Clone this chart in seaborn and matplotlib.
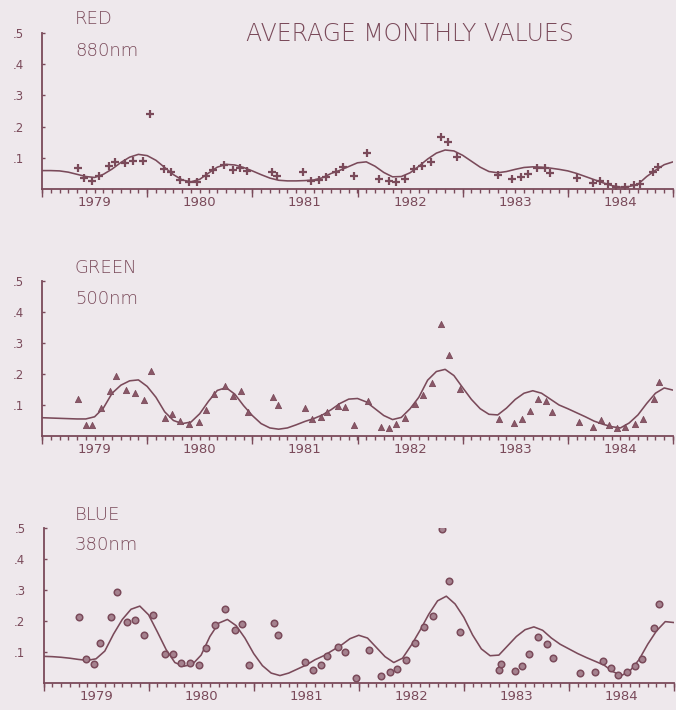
import numpy as np
import pandas as pd
import matplotlib
matplotlib.use("Agg")
import matplotlib.pyplot as plt
import seaborn as sns

# ---------------- data ----------------
years = [1979, 1980, 1981, 1982, 1983, 1984]
year_labels = ["1979", "1980", "1981", "1982", "1983", "1984"]
ytick_vals = [0.1, 0.2, 0.3, 0.4, 0.5]
ytick_labels = [".1", ".2", ".3", ".4", ".5"]

# monthly points (decimal year, value)
red_t = [1979.34, 1979.40, 1979.48, 1979.54, 1979.64, 1979.69, 1979.79, 1979.87, 1979.96, 1980.03,
         1980.16, 1980.23, 1980.31, 1980.40, 1980.47, 1980.56, 1980.63, 1980.73, 1980.82, 1980.88,
         1980.95, 1981.19, 1981.23, 1981.48, 1981.56, 1981.63, 1981.70, 1981.80, 1981.86, 1981.97,
         1982.09, 1982.20, 1982.30, 1982.37, 1982.45, 1982.54, 1982.61, 1982.70, 1982.79, 1982.86,
         1982.95, 1983.34, 1983.47, 1983.55, 1983.62, 1983.71, 1983.78, 1983.83, 1984.09, 1984.24,
         1984.31, 1984.38, 1984.46, 1984.54, 1984.63, 1984.69, 1984.81, 1984.86]
red_v = [0.066, 0.034, 0.026, 0.043, 0.074, 0.087, 0.084, 0.091, 0.089, 0.240,
         0.065, 0.054, 0.029, 0.021, 0.022, 0.042, 0.061, 0.076, 0.061, 0.068,
         0.057, 0.056, 0.043, 0.054, 0.026, 0.029, 0.038, 0.056, 0.072, 0.042,
         0.116, 0.031, 0.026, 0.022, 0.031, 0.063, 0.074, 0.087, 0.168, 0.150,
         0.104, 0.046, 0.032, 0.038, 0.048, 0.066, 0.068, 0.051, 0.035, 0.020,
         0.025, 0.016, 0.007, 0.007, 0.012, 0.016, 0.055, 0.071]

green_t = [1979.34, 1979.42, 1979.48, 1979.56, 1979.65, 1979.70, 1979.80, 1979.88, 1979.97, 1980.04,
           1980.17, 1980.24, 1980.31, 1980.40, 1980.49, 1980.56, 1980.64, 1980.74, 1980.82, 1980.89,
           1980.96, 1981.20, 1981.24, 1981.50, 1981.57, 1981.65, 1981.71, 1981.81, 1981.88, 1981.97,
           1982.10, 1982.22, 1982.30, 1982.37, 1982.45, 1982.55, 1982.62, 1982.71, 1982.79, 1982.87,
           1982.97, 1983.35, 1983.49, 1983.56, 1983.64, 1983.72, 1983.79, 1983.85, 1984.11, 1984.24,
           1984.32, 1984.39, 1984.47, 1984.54, 1984.64, 1984.71, 1984.82, 1984.87]
green_v = [0.120, 0.035, 0.035, 0.089, 0.145, 0.194, 0.147, 0.138, 0.116, 0.211,
           0.057, 0.070, 0.047, 0.040, 0.044, 0.084, 0.134, 0.162, 0.128, 0.144,
           0.077, 0.125, 0.101, 0.090, 0.054, 0.060, 0.076, 0.098, 0.095, 0.035,
           0.114, 0.030, 0.027, 0.040, 0.057, 0.103, 0.131, 0.170, 0.360, 0.261,
           0.150, 0.055, 0.043, 0.054, 0.081, 0.119, 0.113, 0.077, 0.045, 0.030,
           0.052, 0.037, 0.025, 0.028, 0.038, 0.055, 0.118, 0.175]

blue_t = [1979.34, 1979.40, 1979.48, 1979.54, 1979.64, 1979.70, 1979.79, 1979.87, 1979.96, 1980.04,
          1980.16, 1980.23, 1980.31, 1980.39, 1980.48, 1980.55, 1980.63, 1980.73, 1980.82, 1980.89,
          1980.96, 1981.19, 1981.23, 1981.49, 1981.56, 1981.64, 1981.70, 1981.80, 1981.87, 1981.97,
          1982.10, 1982.21, 1982.30, 1982.36, 1982.45, 1982.54, 1982.62, 1982.71, 1982.79, 1982.86,
          1982.96, 1983.33, 1983.35, 1983.49, 1983.55, 1983.62, 1983.71, 1983.79, 1983.85, 1984.11,
          1984.25, 1984.32, 1984.40, 1984.47, 1984.55, 1984.63, 1984.70, 1984.81, 1984.86]
blue_v = [0.214, 0.077, 0.060, 0.130, 0.214, 0.295, 0.198, 0.203, 0.156, 0.219,
          0.095, 0.093, 0.066, 0.065, 0.057, 0.114, 0.187, 0.239, 0.171, 0.190,
          0.059, 0.194, 0.154, 0.067, 0.043, 0.057, 0.087, 0.117, 0.100, 0.016,
          0.105, 0.022, 0.035, 0.046, 0.073, 0.130, 0.180, 0.217, 0.497, 0.329,
          0.165, 0.043, 0.060, 0.039, 0.055, 0.095, 0.149, 0.125, 0.081, 0.033,
          0.036, 0.071, 0.049, 0.025, 0.036, 0.055, 0.079, 0.176, 0.255]

# smooth fitted curves, one value per month from Jan 1979 to Jan 1985
red_curve = [0.059, 0.059, 0.058, 0.054, 0.047, 0.040, 0.037, 0.047, 0.064, 0.085,
             0.102, 0.111, 0.107, 0.092, 0.069, 0.046, 0.029, 0.023, 0.031, 0.051,
             0.070, 0.079, 0.077, 0.069, 0.058, 0.046, 0.035, 0.028, 0.026, 0.026,
             0.027, 0.029, 0.036, 0.050, 0.060, 0.072, 0.084, 0.087, 0.073, 0.053,
             0.039, 0.040, 0.052, 0.073, 0.096, 0.115, 0.125, 0.122, 0.108, 0.089,
             0.070, 0.056, 0.052, 0.056, 0.063, 0.069, 0.071, 0.070, 0.067, 0.063,
             0.058, 0.050, 0.040, 0.030, 0.020, 0.011, 0.006, 0.008, 0.015, 0.040,
             0.060, 0.078, 0.087]
green_curve = [0.059, 0.058, 0.057, 0.056, 0.055, 0.055, 0.062, 0.090, 0.138, 0.164,
               0.178, 0.181, 0.160, 0.125, 0.078, 0.050, 0.040, 0.045, 0.072, 0.112,
               0.147, 0.156, 0.135, 0.098, 0.066, 0.040, 0.026, 0.022, 0.026, 0.036,
               0.047, 0.056, 0.068, 0.085, 0.105, 0.119, 0.121, 0.110, 0.088, 0.066,
               0.053, 0.060, 0.088, 0.125, 0.180, 0.208, 0.215, 0.195, 0.156, 0.118,
               0.088, 0.070, 0.068, 0.090, 0.118, 0.138, 0.146, 0.138, 0.119, 0.100,
               0.088, 0.075, 0.062, 0.048, 0.038, 0.030, 0.026, 0.042, 0.068, 0.105,
               0.138, 0.155, 0.148]
blue_curve = [0.086, 0.085, 0.083, 0.080, 0.076, 0.073, 0.078, 0.103, 0.158, 0.205,
              0.238, 0.248, 0.220, 0.165, 0.108, 0.066, 0.054, 0.060, 0.090, 0.150,
              0.193, 0.205, 0.185, 0.145, 0.095, 0.056, 0.032, 0.024, 0.032, 0.045,
              0.058, 0.075, 0.088, 0.105, 0.122, 0.143, 0.154, 0.145, 0.115, 0.085,
              0.066, 0.080, 0.122, 0.170, 0.222, 0.265, 0.280, 0.255, 0.212, 0.155,
              0.110, 0.088, 0.090, 0.120, 0.150, 0.172, 0.181, 0.170, 0.145, 0.125,
              0.110, 0.095, 0.082, 0.070, 0.058, 0.037, 0.024, 0.040, 0.075, 0.125,
              0.168, 0.198, 0.195]

band_names = ["RED", "GREEN", "BLUE"]
band_waves = ["880nm", "500nm", "380nm"]
title = "AVERAGE MONTHLY VALUES"

# ---------------- styling ----------------
sns.set_theme(style="white")
plt.rcParams["font.family"] = ["DejaVu Sans"]

INK = "#7a4a5a"
BG = "#eee8ec"

W, H = 676, 710
fig = plt.figure(figsize=(W / 100, H / 100), dpi=100, facecolor=BG)

# axes rectangles in pixels: (left, top(0.5), right, bottom(0))
rects = [(42, 33, 673, 189), (42, 281, 673, 436), (43.5, 528, 674, 683)]

panels = [
    (red_t, red_v, red_curve, dict(marker="+", s=34, linewidth=1.6, color=INK)),
    (green_t, green_v, green_curve, dict(marker="^", s=20, color="#8a5868", edgecolor=INK, linewidth=0.6)),
    (blue_t, blue_v, blue_curve, dict(marker="o", s=22, color="#a5828f", edgecolor=INK, linewidth=1.1)),
]

months_t = 1979 + np.arange(len(red_curve)) / 12.0

for i, ((pt_t, pt_v, curve, mstyle), (l, t, r, b)) in enumerate(zip(panels, rects)):
    ax = fig.add_axes([l / W, 1 - b / H, (r - l) / W, (b - t) / H])
    ax.set_facecolor("none")
    curve_df = pd.DataFrame({"t": months_t, "v": curve})
    pts_df = pd.DataFrame({"t": pt_t, "v": pt_v})
    sns.lineplot(data=curve_df, x="t", y="v", ax=ax, color=INK, linewidth=1.15, sort=True)
    sns.scatterplot(data=pts_df, x="t", y="v", ax=ax, zorder=3, legend=False, **mstyle)

    ax.set_xlim(1979, 1985)
    ax.set_ylim(0, 0.5)
    ax.set_xlabel("")
    ax.set_ylabel("")
    for sp in ["top", "right"]:
        ax.spines[sp].set_visible(False)
    for sp in ["left", "bottom"]:
        ax.spines[sp].set_color(INK)
        ax.spines[sp].set_linewidth(1.3)

    ax.set_yticks(ytick_vals)
    ax.set_yticklabels(ytick_labels)
    ax.tick_params(axis="y", length=2, width=1, direction="in", pad=13,
                   labelsize=8.5, colors=INK, left=True)

    ax.set_xticks([y + 0.5 for y in years])
    ax.set_xticklabels(year_labels)
    ax.set_xticks(np.arange(1979, 1985.001, 1 / 12.0), minor=True)
    ax.tick_params(axis="x", which="both", length=3.2, width=1.0, direction="out",
                   colors=INK, bottom=True, labelsize=9.5, pad=2)

    sec = ax.secondary_xaxis("bottom")
    sec.set_xticks(years + [1985])
    sec.tick_params(axis="x", length=6, width=1.0, direction="out", colors=INK,
                    labelbottom=False)
    sec.spines["bottom"].set_visible(False)

    # band labels
    fig.text(75 / W, 1 - (t - 13.5) / H, band_names[i], ha="left", va="center",
             fontsize=13, color=INK, fontweight="light")
    fig.text(75 / W, 1 - (t + 17.5) / H, band_waves[i], ha="left", va="center",
             fontsize=13, color=INK, fontweight="light")

fig.text(410 / W, 1 - 34 / H, title, ha="center", va="center", fontsize=17,
         color=INK, fontweight="light")

fig.savefig("out.png", dpi=100, facecolor=BG)
